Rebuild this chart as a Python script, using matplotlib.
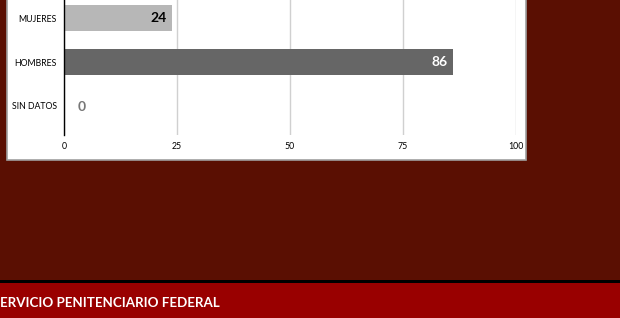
import matplotlib
matplotlib.use("Agg")
import matplotlib.pyplot as plt
from matplotlib.patches import Rectangle

categories = ["SIN DATOS", "HOMBRES", "MUJERES"]
values = [0, 86, 24]
bar_colors = ["#B7B7B7", "#666666", "#B7B7B7"]
label_colors = ["#777777", "#FFFFFF", "#000000"]
xticks = [0, 25, 50, 75, 100]
footer_text = "ERVICIO PENITENCIARIO FEDERAL"

FONT = "Lato"
W, H = 620, 318
fig = plt.figure(figsize=(W / 100, H / 100), dpi=100)
fig.patch.set_facecolor("#5A0F02")

# white panel
fig.patches.append(Rectangle((7 / W, 1 - 160 / H), (526 - 7) / W, 170 / H,
                             transform=fig.transFigure, facecolor="white",
                             edgecolor="#A0A0A0", linewidth=1.2, zorder=0))
# footer
fig.patches.append(Rectangle((0, 1 - 283 / H), 1, 3 / H, transform=fig.transFigure,
                             facecolor="#000000", edgecolor="none", zorder=0))
fig.patches.append(Rectangle((0, 0), 1, (H - 283) / H, transform=fig.transFigure,
                             facecolor="#990000", edgecolor="none", zorder=0))
fig.text(0.5 / W, 1 - 303 / H, footer_text, color="white", fontsize=9.6,
         fontweight="bold", family=FONT, va="center", ha="left")

ax = fig.add_axes([64 / W, 1 - 135 / H, (516 - 64) / W, 135 / H])
ax.set_zorder(2)
ax.patch.set_alpha(0)
ypos = list(range(len(categories)))
ax.barh(ypos, values, height=0.61, color=bar_colors, edgecolor="none", zorder=3)
for y, v, c in zip(ypos, values, label_colors):
    if v > 10:
        ax.text(v - 1.2, y, str(v), ha="right", va="center", color=c,
                fontsize=10, fontweight="bold", family=FONT, zorder=4)
    else:
        ax.text(v + 3, y - 0.03, str(v), ha="left", va="center", color=c,
                fontsize=10, fontweight="bold", family=FONT, zorder=4)

ax.set_xlim(0, 100)
ax.set_ylim(-0.66, 2.41)
ax.set_xticks(xticks)
ax.set_xticklabels([str(t) for t in xticks], fontsize=6.3, family=FONT)
ax.set_yticks(ypos)
ax.set_yticklabels(categories, fontsize=6.3, family=FONT)
ax.tick_params(axis="both", length=0, pad=5)
ax.grid(axis="x", color="#D0D0D0", linewidth=1, zorder=0)
for s in ["top", "right", "bottom"]:
    ax.spines[s].set_visible(False)
ax.spines["left"].set_color("#000000")
ax.spines["left"].set_linewidth(1)
ax.spines["left"].set_zorder(5)

fig.savefig("out.png", dpi=100, facecolor=fig.get_facecolor())
